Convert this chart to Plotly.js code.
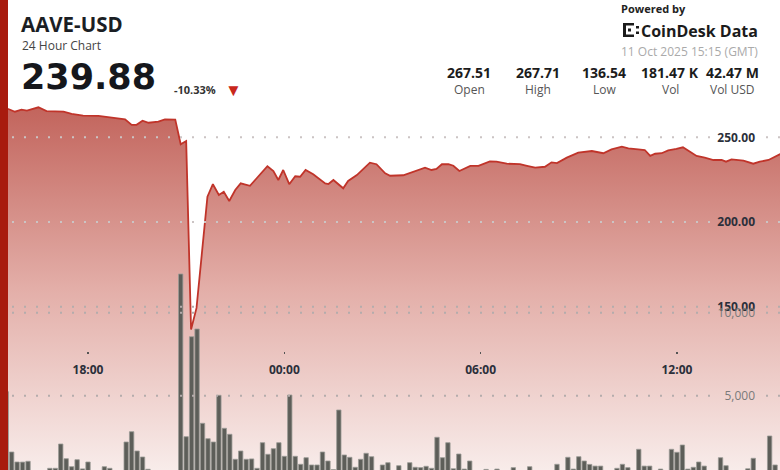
<!DOCTYPE html>
<html>
<head>
<meta charset="utf-8">
<script src="https://cdn.plot.ly/plotly-3.0.1.min.js"></script>
<style>html,body{margin:0;padding:0;background:#fff;}#chart{width:780px;height:470px;}</style>
</head>
<body>
<div id="chart"></div>
<script>
// ---------- data ----------
const priceTimes = [
 "2025-10-10 15:15","2025-10-10 15:34","2025-10-10 15:46","2025-10-10 15:58","2025-10-10 16:08","2025-10-10 16:29",
 "2025-10-10 16:44","2025-10-10 17:15","2025-10-10 17:30","2025-10-10 17:51","2025-10-10 18:19","2025-10-10 18:40",
 "2025-10-10 19:08","2025-10-10 19:20","2025-10-10 19:29","2025-10-10 19:40","2025-10-10 19:51","2025-10-10 20:09",
 "2025-10-10 20:21","2025-10-10 20:40","2025-10-10 20:50","2025-10-10 21:00","2025-10-10 21:09","2025-10-10 21:19",
 "2025-10-10 21:39","2025-10-10 21:49","2025-10-10 22:00","2025-10-10 22:09","2025-10-10 22:19","2025-10-10 22:30",
 "2025-10-10 22:40","2025-10-10 22:57","2025-10-10 23:15","2025-10-10 23:29","2025-10-10 23:40","2025-10-10 23:49",
 "2025-10-10 23:58","2025-10-11 00:09","2025-10-11 00:20","2025-10-11 00:29","2025-10-11 00:39","2025-10-11 00:53",
 "2025-10-11 01:15","2025-10-11 01:21","2025-10-11 01:30","2025-10-11 01:48","2025-10-11 01:57","2025-10-11 02:13",
 "2025-10-11 02:37","2025-10-11 02:49","2025-10-11 03:05","2025-10-11 03:14","2025-10-11 03:38","2025-10-11 03:57",
 "2025-10-11 04:18","2025-10-11 04:30","2025-10-11 04:39","2025-10-11 04:49","2025-10-11 05:01","2025-10-11 05:10",
 "2025-10-11 05:21","2025-10-11 05:41","2025-10-11 05:56","2025-10-11 06:17","2025-10-11 06:29","2025-10-11 06:48",
 "2025-10-11 07:12","2025-10-11 07:25","2025-10-11 07:40","2025-10-11 07:58","2025-10-11 08:10","2025-10-11 08:20",
 "2025-10-11 08:38","2025-10-11 08:59","2025-10-11 09:11","2025-10-11 09:24","2025-10-11 09:45","2025-10-11 10:00",
 "2025-10-11 10:19","2025-10-11 10:31","2025-10-11 10:49","2025-10-11 11:01","2025-10-11 11:11","2025-10-11 11:20",
 "2025-10-11 11:32","2025-10-11 11:44","2025-10-11 11:59","2025-10-11 12:11","2025-10-11 12:24","2025-10-11 12:36",
 "2025-10-11 12:51","2025-10-11 13:07","2025-10-11 13:22","2025-10-11 13:30","2025-10-11 13:40","2025-10-11 14:02",
 "2025-10-11 14:20","2025-10-11 14:32","2025-10-11 14:48","2025-10-11 15:00","2025-10-11 15:09","2025-10-11 15:15"
];
const priceValues = [
 267.51,266.7,265.1,266.3,265.7,267.71,
 265.5,265.1,263.8,262.8,262.6,261.6,
 260.6,257.3,257.4,259.8,258.6,259.2,
 260.6,260.4,245.9,247.8,136.54,149.3,
 214.9,222.3,215.9,217.9,212.4,218.9,
 222.8,221.4,227.7,232.9,230.1,224.8,
 230.7,222.3,227.0,226.7,230.7,228.2,
 222.8,222.4,224.8,219.9,224.2,227.7,
 235.0,234.1,228.7,227.3,227.6,229.7,
 232.1,230.7,231.3,234.1,234.2,233.2,
 230.1,233.1,233.1,235.8,235.6,234.4,
 234.2,233.2,232.1,232.6,235.2,234.8,
 238.0,240.9,241.5,241.9,240.6,242.9,
 244.5,243.5,242.9,242.5,239.0,240.3,
 240.6,242.3,243.1,244.1,241.5,239.0,
 238.0,236.6,236.6,235.6,237.0,236.2,
 234.4,235.6,236.6,238.5,240.0,239.88
];
// 10-minute volume bars, first bar at volStart
const volStart = "2025-10-10 15:30";
const volStepMinutes = 10;
const volValues = [
 5241,1608,1006,1000,1048,380,350,400,626,626,
 2090,1205,723,1145,590,1006,420,380,723,626,
 400,450,2211,2831,1669,1307,570,450,400,380,
 420,460,12331,2530,8554,9018,3337,2410,2211,5024,
 3036,2675,1169,1669,1169,1190,626,2169,1470,1807,
 2169,1349,5042,1349,867,1265,827,827,1608,1066,
 550,4139,1428,1289,687,1169,1530,1325,450,827,
 964,450,783,480,964,687,667,747,626,2494,
 1265,2169,600,1488,580,1066,420,400,560,380,
 580,420,400,667,450,400,723,380,420,350,
 450,867,430,1289,580,1325,1066,860,760,760,
 420,450,626,867,667,430,1771,760,760,400,
 580,420,1771,1590,2030,580,687,1006,760,420,
 380,1265,783,400,380,450,600,1229,420,400,
 2572,827
];
const priceTicks = [150, 200, 250];
const volTicks = [5000, 10000];
const headerStats = ["267.51","267.71","136.54","181.47 K","42.47 M"];
const headerLabels = ["Open","High","Low","Vol","Vol USD"];

// ---------- build ----------
const t0 = new Date(volStart.replace(" ","T")+":00Z").getTime();
const pad2 = n => (n<10?"0":"")+n;
const volTimes = volValues.map((_, i) => {
  const d = new Date(t0 + i*volStepMinutes*60000);
  return d.getUTCFullYear()+"-"+pad2(d.getUTCMonth()+1)+"-"+pad2(d.getUTCDate())+" "+pad2(d.getUTCHours())+":"+pad2(d.getUTCMinutes());
});

const W = 780, H = 470;
const px = x => x / W;
const py = y => 1 - y / H;
const FONT = "Open Sans, Noto Sans, sans-serif";

const priceTrace = {
  type: "scatter", mode: "lines",
  x: priceTimes, y: priceValues,
  xaxis: "x", yaxis: "y",
  line: {color: "#c0342a", width: 1.8},
  fill: "tozeroy",
  fillgradient: {type: "vertical", start: 53.6, stop: 268,
    colorscale: [[0, "#f8ecea"], [0.5, "#e3aea8"], [1, "#c2645c"]]},
  hoverinfo: "skip"
};
const volTrace = {
  type: "bar", x: volTimes, y: volValues,
  xaxis: "x", yaxis: "y2",
  width: volStepMinutes*60000*0.8,
  marker: {color: "#5d5e59", line: {color: "#9b9b96", width: 0.8}},
  hoverinfo: "skip"
};

const annotations = [];
function txt(text, x, y, size, color, opts) {
  annotations.push(Object.assign({
    text: text, x: px(x), y: py(y), xref: "paper", yref: "paper",
    showarrow: false, xanchor: "left", yanchor: "middle", borderpad: 0,
    font: {family: FONT, size: size, color: color}
  }, opts || {}));
}
txt("AAVE-USD", 20, 24.5, 20.5, "#1b1e24", {font: {family: FONT, size: 20.5, color: "#1b1e24", weight: 700}});
txt("24 Hour Chart", 21, 45.5, 12, "#444");
txt("239.88", 20, 77, 35, "#15171c", {font: {family: "DejaVu Sans, sans-serif", size: 35, color: "#15171c", weight: 700}});
txt("-10.33%", 173, 89, 11, "#333", {font: {family: FONT, size: 11, color: "#333", weight: 700}});
txt("▼", 233, 89, 17, "#c9281c", {xanchor: "center"});
txt("Powered by", 620, 8, 11, "#222", {font: {family: FONT, size: 11, color: "#222", weight: 700}});
txt("CoinDesk Data", 640, 31, 16, "#1b1b1b", {font: {family: FONT, size: 16, color: "#1b1b1b", weight: 700}});
txt("11 Oct 2025 15:15 (GMT)", 759, 52, 12, "#aaaaaa", {xanchor: "right"});
const statX = [469, 537.5, 604, 670, 732];
headerStats.forEach((s, i) => txt(s, statX[i], 72, 14, "#1c1c1c", {xanchor: "center", font: {family: FONT, size: 14, color: "#1c1c1c", weight: 700}}));
headerLabels.forEach((s, i) => txt(s, statX[i], 89, 12, "#555", {xanchor: "center"}));

const shapes = [];
function rect(x0, y0, x1, y1, color) {
  shapes.push({type: "rect", xref: "paper", yref: "paper", x0: px(x0), x1: px(x1), y0: py(y1), y1: py(y0),
    fillcolor: color, line: {width: 0}, layer: "above"});
}
// dotted gridlines drawn above the fill, at the axis tick values, leaving room for the labels
function grid(yref, val, color) {
  [[0, 714], [766, 780]].forEach(seg => {
    shapes.push({type: "line", xref: "paper", yref: yref, x0: px(seg[0]), x1: px(seg[1]), y0: val, y1: val,
      line: {color: color, width: 2, dash: "2px,10px"}, layer: "above"});
  });
}
priceTicks.forEach(v => grid("y", v, v >= 200 ? "#cbc4c4" : "#b4acac"));
volTicks.forEach(v => grid("y2", v, "#b4acac"));

rect(0, 0, 8, 470, "#a81b0e");
// logo glyph
rect(623, 23, 626, 37, "#1b1b1b");
rect(623, 23, 634, 25.5, "#1b1b1b");
rect(623, 34.5, 634, 37, "#1b1b1b");
rect(628, 28.5, 631, 31.5, "#1b1b1b");
rect(636, 26, 639, 28.5, "#1b1b1b");
rect(636, 31.5, 639, 34, "#1b1b1b");

const layout = {
  width: W, height: H,
  margin: {l: 0, r: 0, t: 0, b: 0, pad: 0},
  paper_bgcolor: "#ffffff", plot_bgcolor: "#ffffff",
  showlegend: false, bargap: 0,
  font: {family: FONT},
  xaxis: {
    type: "date", range: ["2025-10-10 15:18:36", "2025-10-11 15:09:00"],
    anchor: "free", position: 1 - 351/470,
    tick0: "2025-10-10 18:00", dtick: 6*3600000, tickformat: "%H:%M",
    ticks: "outside", ticklen: 2, tickwidth: 1.5, tickcolor: "#555",
    ticklabelstandoff: 6,
    tickfont: {family: FONT, size: 12, color: "#2b2f3a", weight: 700},
    showgrid: false, zeroline: false, showline: false
  },
  yaxis: {
    range: [53.6, 331.05], side: "right",
    tickvals: priceTicks, tickformat: ".2f",
    ticklabelposition: "inside", ticks: "", ticklabelstandoff: 22,
    tickfont: {family: FONT, size: 12, color: "#2b2f3a", weight: 700},
    showgrid: false, zeroline: false, showline: false
  },
  yaxis2: {
    overlaying: "y", range: [524, 28837], side: "right",
    tickvals: volTicks, tickformat: ",d",
    ticklabelposition: "inside", ticks: "", ticklabelstandoff: 22,
    tickfont: {family: FONT, size: 12, color: "#7a7a7a"},
    showgrid: false, zeroline: false, showline: false
  },
  annotations: annotations,
  shapes: shapes
};

Plotly.newPlot("chart", [priceTrace, volTrace], layout, {staticPlot: true, displayModeBar: false});
</script>
</body>
</html>
